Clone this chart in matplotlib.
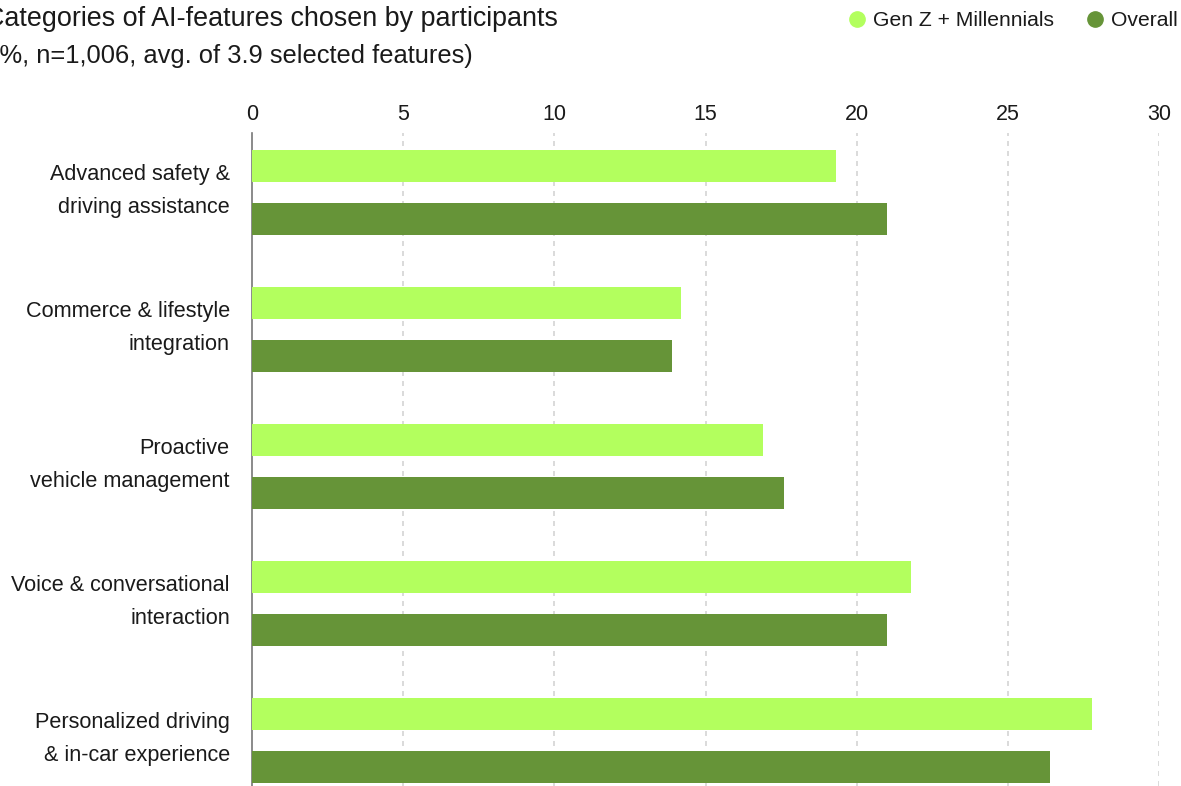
import numpy as np
import matplotlib.pyplot as plt
import matplotlib.transforms as mtransforms
from matplotlib.lines import Line2D

categories = [
    "Advanced safety &\ndriving assistance",
    "Commerce & lifestyle\nintegration",
    "Proactive\nvehicle management",
    "Voice & conversational\ninteraction",
    "Personalized driving\n& in-car experience",
]
genz_millennials = [19.3, 14.2, 16.9, 21.8, 27.8]
overall = [21.0, 13.9, 17.6, 21.0, 26.4]
ticks = [0, 5, 10, 15, 20, 25, 30]

LIGHT = "#b3ff5e"
DARK = "#669438"
TEXT = "#1a1a1a"

plt.rcParams["font.family"] = ["Liberation Sans", "DejaVu Sans"]

fig = plt.figure(figsize=(11.81, 7.86), dpi=100)
ax = fig.add_axes([252 / 1181, 0, (1159 - 252) / 1181, 1 - 133 / 786])

y = np.arange(len(categories))
h = 0.234
off = 0.192
ax.barh(y - off, genz_millennials, height=h, color=LIGHT, zorder=3)
ax.barh(y + off, overall, height=h, color=DARK, zorder=3)

ax.set_xlim(0, 30)
ax.set_ylim(4.332, -0.434)
ax.set_xticks(ticks)
ax.set_xticklabels([str(t) for t in ticks])
ax.xaxis.tick_top()
ax.tick_params(axis="x", length=0, pad=6, labelsize=15.5, labelcolor=TEXT)
ax.set_yticks(y)
ax.set_yticklabels(categories, ha="right", linespacing=1.75)
ax.tick_params(axis="y", length=0, pad=16, labelsize=15.6, labelcolor=TEXT)

# nudge the category labels up a little
shift = mtransforms.ScaledTranslation(0, 10 / 100, fig.dpi_scale_trans)
for lab in ax.get_yticklabels():
    lab.set_transform(lab.get_transform() + shift)

for s in ["top", "right", "bottom"]:
    ax.spines[s].set_visible(False)
ax.spines["left"].set_color("#777777")
ax.spines["left"].set_linewidth(1.2)

ax.grid(axis="x", color="#d4d4d4", linestyle=(0, (3, 3)), linewidth=1.2, zorder=0)
ax.xaxis.get_gridlines()[0].set_visible(False)

fig.text(-15 / 1181, 1 - 19 / 786, "Categories of AI-features chosen by participants",
         ha="left", va="center", fontsize=19.4, color=TEXT)
fig.text(-9 / 1181, 1 - 56 / 786, "(%, n=1,006, avg. of 3.9 selected features)",
         ha="left", va="center", fontsize=18.4, color=TEXT)

handles = [
    Line2D([], [], marker="o", linestyle="", markersize=11, color=LIGHT, label="Gen Z + Millennials"),
    Line2D([], [], marker="o", linestyle="", markersize=11, color=DARK, label="Overall"),
]
fig.legend(handles=handles, loc="center right", bbox_to_anchor=(1.013, 1 - 21 / 786),
           ncol=2, frameon=False, fontsize=15.2, handlelength=1.0, handletextpad=0.25,
           columnspacing=1.43, labelcolor=TEXT)

fig.savefig("out.png", dpi=100)
